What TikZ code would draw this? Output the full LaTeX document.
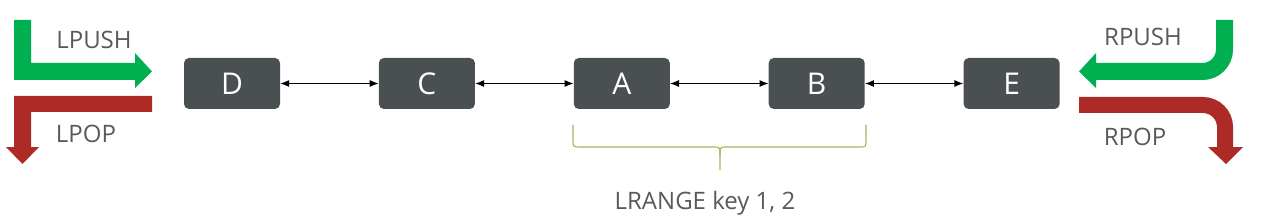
\documentclass[tikz,border=0pt]{standalone}
\usepackage{fontspec}
\setmainfont{Open Sans}
\usepackage{xcolor}
\usetikzlibrary{arrows.meta,positioning,calc}
\definecolor{boxgray}{HTML}{4A5051}
\definecolor{pushgreen}{HTML}{00B050}
\definecolor{popred}{HTML}{AD2A27}
\definecolor{bracegreen}{HTML}{9BBB59}
\definecolor{labelgray}{HTML}{595959}

\begin{document}
\begin{tikzpicture}[
    x=1pt, y=-1pt,
    every node/.style={font=\fontsize{24}{28}\selectfont, text=labelgray},
    elem/.style={draw=none, fill=boxgray, rounded corners=5pt, minimum width=96pt, minimum height=51pt,
        text=white, font=\fontsize{30}{34}\selectfont},
    link/.style={{Latex[length=9pt,width=7pt]}-{Latex[length=9pt,width=7pt]}, line width=1.1pt, black},
    node distance=98.5pt,
  ]
    \useasboundingbox (0,0) rectangle (1263,219);
    % list elements
    \node[elem] (D) at (232,83.5) {D};
    \node[elem, right=of D] (C) {C};
    \node[elem, right=of C] (A) {A};
    \node[elem, right=of A] (B) {B};
    \node[elem, right=of B] (E) {E};
    \draw[link] (D) -- (C);
    \draw[link] (C) -- (A);
    \draw[link] (A) -- (B);
    \draw[link] (B) -- (E);

    % left side
    \fill[pushgreen] (14,20) -- (31,20) -- (31,63) -- (135,63) -- (135,53) -- (152,71.5)
        -- (135,88) -- (135,80) -- (14,80) -- cycle;
    \fill[popred] (152,96) -- (152,112) -- (31,112) -- (31,147) -- (39,147) -- (22.5,164)
        -- (6,147) -- (14,147) -- (14,96) -- cycle;
    \node (lpush) at (94,40) {LPUSH};
    \node (lpop) at (86,134) {LPOP};

    % right side
    \draw[pushgreen, line width=17pt, rounded corners=22pt] (1224.5,20) -- (1224.5,71.5) -- (1095,71.5);
    \fill[pushgreen] (1096,53) -- (1079,71.5) -- (1096,88) -- cycle;
    \draw[popred, line width=16pt, rounded corners=22pt] (1079,105) -- (1225,105) -- (1225,148);
    \fill[popred] (1208,147) -- (1226,164) -- (1243,147) -- cycle;
    \node (rpush) at (1143,37) {RPUSH};
    \node (rpop) at (1135,137) {RPOP};

    % range brace
    \draw[bracegreen, line width=1.1pt] (573,125) -- (573,140) .. controls (573,147) .. (580,147)
        -- (713,147) .. controls (720,147) .. (720,155) -- (720,170);
    \draw[bracegreen, line width=1.1pt] (866,125) -- (866,140) .. controls (866,147) .. (859,147)
        -- (727,147) .. controls (720,147) .. (720,155);
    \node (range) at (705,203) {LRANGE key 1, 2};
\end{tikzpicture}
\end{document}
